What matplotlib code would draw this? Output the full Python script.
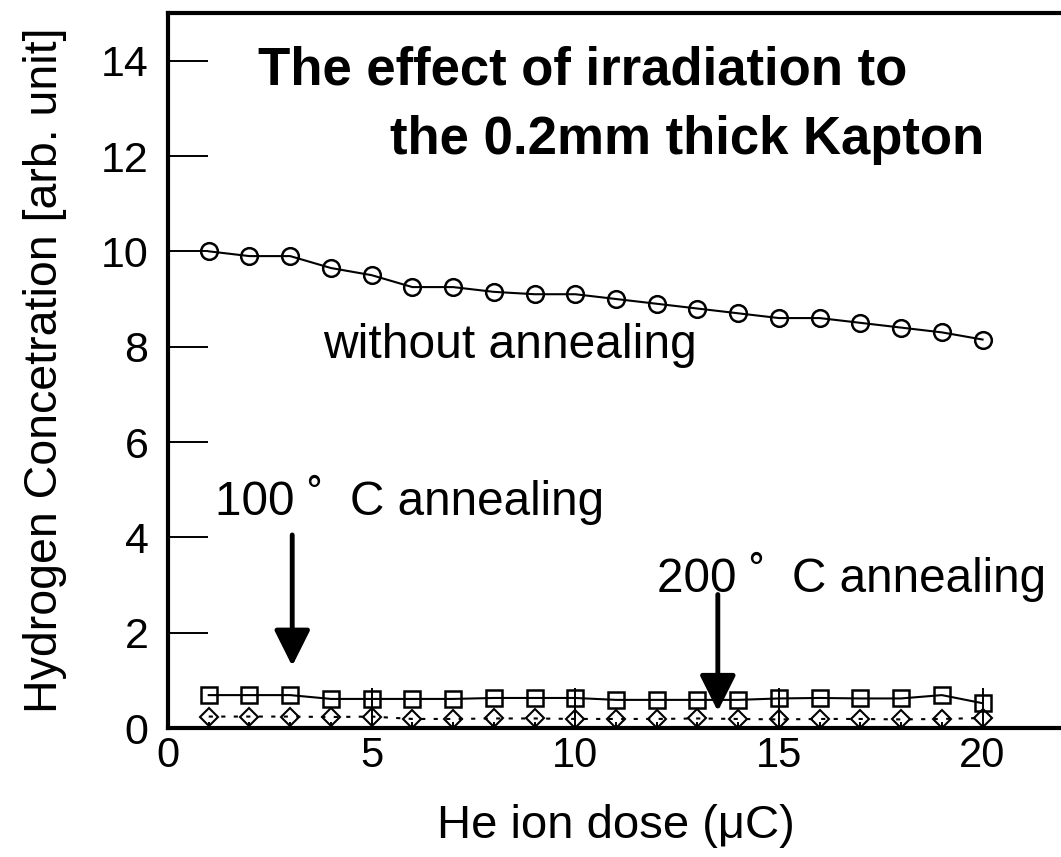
import numpy as np
import matplotlib
matplotlib.use("Agg")
import matplotlib.pyplot as plt
from matplotlib.ticker import FixedLocator

plt.rcParams["font.family"] = ["Liberation Sans", "DejaVu Sans"]

# He ion dose (uC)
dose = list(range(1, 21))

# without annealing (circles)
no_anneal = [10.0, 9.9, 9.9, 9.65, 9.5, 9.25, 9.25, 9.15, 9.1, 9.1,
             9.0, 8.9, 8.8, 8.7, 8.6, 8.6, 8.5, 8.4, 8.3, 8.15]
# 100 C annealing (squares)
anneal_100 = [0.69, 0.69, 0.69, 0.61, 0.61, 0.61, 0.61, 0.63, 0.63, 0.63,
              0.59, 0.59, 0.59, 0.59, 0.62, 0.63, 0.62, 0.62, 0.69, 0.52]
# 200 C annealing (diamonds)
anneal_200 = [0.24, 0.24, 0.24, 0.23, 0.24, 0.19, 0.19, 0.2, 0.2, 0.19,
              0.19, 0.19, 0.2, 0.19, 0.18, 0.19, 0.19, 0.18, 0.19, 0.21]

fig = plt.figure(figsize=(10.61, 8.57), dpi=100)
ax = fig.add_axes([168 / 1061, 1 - 728 / 857, (1064 - 168) / 1061, (728 - 13) / 857])

ax.plot(dose, no_anneal, color="black", lw=1.5, marker="o", ms=12,
        mfc="none", mec="black", mew=1.8)
ax.plot(dose, anneal_100, color="black", lw=1.5, marker="s", ms=12,
        mfc="none", mec="black", mew=1.8)
ax.plot(dose, anneal_200, color="black", lw=1.5, ls=(0, (2, 4)), marker="D", ms=9,
        mfc="none", mec="black", mew=1.5)

ax.set_xlim(0, 22)
ax.set_ylim(0, 15)
ax.set_xticks([0, 5, 10, 15, 20])
ax.xaxis.set_minor_locator(FixedLocator(dose))
ax.set_yticks(range(0, 15, 2))

ax.tick_params(axis="both", which="major", direction="in", length=29, width=1.4,
               color="black")
ax.tick_params(axis="x", which="minor", direction="in", length=4, width=1.4)
ax.tick_params(axis="y", labelsize=31, pad=14)
ax.tick_params(axis="x", labelsize=30, pad=6)

for side in ["left", "bottom", "top"]:
    ax.spines[side].set_linewidth(3)
ax.spines["right"].set_visible(False)

ax.set_xlabel("He ion dose (\u03bcC)", fontsize=34, labelpad=20)
ax.set_ylabel("Hydrogen Concetration [arb. unit]", fontsize=33.5, labelpad=24)

ax.text(2.2, 13.8, "The effect of irradiation to", fontsize=38, fontweight="bold",
        va="center", ha="left")
ax.text(5.45, 12.33, "the 0.2mm thick Kapton", fontsize=38, fontweight="bold",
        va="center", ha="left")
ax.text(3.8, 8.03, "without annealing", fontsize=34.5, va="center", ha="left")
ax.text(1.15, 4.78, "100 \u02da  C annealing", fontsize=34.3, va="center", ha="left")
ax.text(12.0, 3.17, "200 \u02da  C annealing", fontsize=34.3, va="center", ha="left")

arrow = dict(arrowstyle="-|>,head_length=2.2,head_width=1.1", color="black", lw=3.5,
             shrinkA=0, shrinkB=0)
ax.annotate("", xy=(3.05, 1.3), xytext=(3.05, 4.05), arrowprops=arrow)
ax.annotate("", xy=(13.5, 0.35), xytext=(13.5, 2.8), arrowprops=arrow)

fig.savefig("out.png", dpi=100)
